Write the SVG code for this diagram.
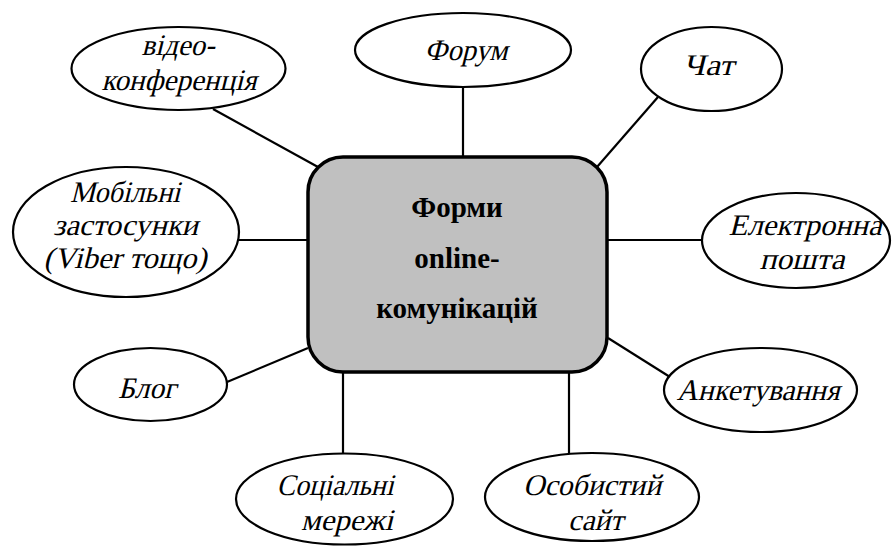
<svg xmlns="http://www.w3.org/2000/svg" width="892" height="546" viewBox="0 0 892 546">
<style>
.bg{fill:#ffffff}
.conn line{stroke:#000;stroke-width:2.2}
.node ellipse{fill:#fff;stroke:#000;stroke-width:2.2}
.node text{font-family:"Liberation Serif","Times New Roman",serif;font-size:30px;fill:#000;text-anchor:middle}
#center rect{fill:#c0c0c0;stroke:#000;stroke-width:3.5}
#center text{font-family:"Liberation Serif","Times New Roman",serif;font-weight:bold;font-size:29px;fill:#000;text-anchor:middle}
</style>
<rect class="bg" x="0" y="0" width="892" height="546"/>
<g id="connectors" class="conn">
<line x1="213" y1="109" x2="318" y2="167"/>
<line x1="463" y1="87" x2="463" y2="157"/>
<line x1="658" y1="97" x2="597" y2="167"/>
<line x1="607" y1="240" x2="702" y2="240"/>
<line x1="608" y1="338" x2="670" y2="377"/>
<line x1="569" y1="372" x2="569" y2="453"/>
<line x1="343" y1="372" x2="343" y2="454"/>
<line x1="227" y1="382" x2="308" y2="348"/>
<line x1="239" y1="240" x2="308" y2="240"/>
</g>
<g id="center">
<rect x="308" y="157" width="299" height="215" rx="35" ry="35"/>
<text x="457" y="217">Форми</text>
<text x="457" y="268">online-</text>
<text x="457" y="318">комунікацій</text>
</g>
<g id="video" class="node">
<ellipse cx="178.5" cy="68.5" rx="107" ry="41.5"/>
<text transform="translate(178,55) skewX(-14)" textLength="73" lengthAdjust="spacingAndGlyphs">відео-</text>
<text transform="translate(179,90) skewX(-14)" textLength="155" lengthAdjust="spacingAndGlyphs">конференція</text>
</g>
<g id="forum" class="node">
<ellipse cx="463" cy="50" rx="108" ry="37"/>
<text transform="translate(466,60) skewX(-14)" textLength="83" lengthAdjust="spacingAndGlyphs">Форум</text>
</g>
<g id="chat" class="node">
<ellipse cx="711.5" cy="69" rx="70.5" ry="42"/>
<text transform="translate(708.5,75) skewX(-14)" textLength="51" lengthAdjust="spacingAndGlyphs">Чат</text>
</g>
<g id="email" class="node">
<ellipse cx="796" cy="240.5" rx="94" ry="47.5"/>
<text transform="translate(805,235) skewX(-14)" textLength="153" lengthAdjust="spacingAndGlyphs">Електронна</text>
<text transform="translate(802,269) skewX(-14)" textLength="85" lengthAdjust="spacingAndGlyphs">пошта</text>
</g>
<g id="survey" class="node">
<ellipse cx="760.5" cy="390" rx="96.5" ry="42"/>
<text transform="translate(758,400) skewX(-14)" textLength="163" lengthAdjust="spacingAndGlyphs">Анкетування</text>
</g>
<g id="site" class="node">
<ellipse cx="592" cy="497" rx="107" ry="44"/>
<text transform="translate(592,495) skewX(-14)" textLength="138" lengthAdjust="spacingAndGlyphs">Особистий</text>
<text transform="translate(595.5,530) skewX(-14)" textLength="55" lengthAdjust="spacingAndGlyphs">сайт</text>
</g>
<g id="social" class="node">
<ellipse cx="344.5" cy="499" rx="108.5" ry="45.5"/>
<text transform="translate(335,495) skewX(-14)" textLength="117" lengthAdjust="spacingAndGlyphs">Соціальні</text>
<text transform="translate(347,530) skewX(-14)" textLength="92" lengthAdjust="spacingAndGlyphs">мережі</text>
</g>
<g id="blog" class="node">
<ellipse cx="150.5" cy="384.5" rx="76.5" ry="36.5"/>
<text transform="translate(147,398) skewX(-14)" textLength="58" lengthAdjust="spacingAndGlyphs">Блог</text>
</g>
<g id="mobile" class="node">
<ellipse cx="126" cy="232" rx="113" ry="65"/>
<text transform="translate(125,202) skewX(-14)" textLength="110" lengthAdjust="spacingAndGlyphs">Мобільні</text>
<text transform="translate(125.5,235) skewX(-14)" textLength="145" lengthAdjust="spacingAndGlyphs">застосунки</text>
<text transform="translate(125,268) skewX(-14)" textLength="163" lengthAdjust="spacingAndGlyphs">(Viber тощо)</text>
</g>
</svg>
